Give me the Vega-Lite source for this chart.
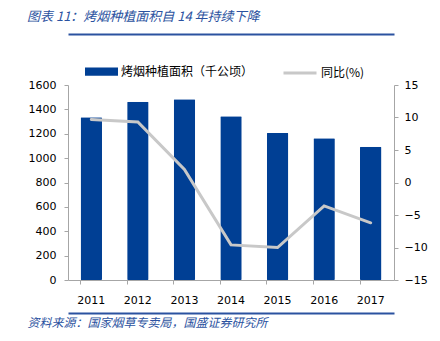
{
  "$schema": "https://vega.github.io/schema/vega-lite/v6.json",
  "width": 326,
  "height": 195,
  "autosize": {"type": "none"},
  "padding": {"left": 68, "top": 85, "right": 46, "bottom": 61},
  "background": "white",
  "config": {
    "view": {"stroke": null},
    "font": "DejaVu Sans"
  },
  "title": {
    "text": "图表 11：烤烟种植面积自 14 年持续下降",
    "font": "Noto Sans CJK SC",
    "fontSize": 13,
    "fontStyle": "italic",
    "fontWeight": "normal",
    "color": "#2B52A0",
    "anchor": "start",
    "frame": "group",
    "dx": -41,
    "offset": 10
  },
  "data": {
    "values": [
      {"year": "2011", "area": 1335, "yoy": 9.7},
      {"year": "2012", "area": 1462, "yoy": 9.3},
      {"year": "2013", "area": 1484, "yoy": 2.0},
      {"year": "2014", "area": 1343, "yoy": -9.6},
      {"year": "2015", "area": 1207, "yoy": -10.0},
      {"year": "2016", "area": 1163, "yoy": -3.6},
      {"year": "2017", "area": 1093, "yoy": -6.2}
    ]
  },
  "layer": [
    {
      "mark": {"type": "bar", "cornerRadius": 1},
      "encoding": {
        "x": {
          "field": "year",
          "type": "ordinal",
          "scale": {"paddingInner": 0.54, "paddingOuter": 0.27},
          "axis": {
            "orient": "bottom",
            "offset": 33,
            "labels": false,
            "ticks": false,
            "domain": true,
            "domainColor": "#2B52A0",
            "domainWidth": 2,
            "title": "资料来源：国家烟草专卖局，国盛证券研究所",
            "titleFont": "Noto Sans CJK SC",
            "titleFontSize": 12,
            "titleFontStyle": "italic",
            "titleFontWeight": "normal",
            "titleColor": "#2B52A0",
            "titleAnchor": "start",
            "titleAlign": "left",
            "titleBaseline": "middle",
            "titleX": -41,
            "titleY": 9
          }
        },
        "y": {
          "field": "area",
          "type": "quantitative",
          "scale": {"domain": [0, 1600]},
          "axis": {
            "orient": "left",
            "values": [0, 200, 400, 600, 800, 1000, 1200, 1400, 1600],
            "format": "d",
            "title": null,
            "grid": false,
            "labelFont": "DejaVu Sans",
            "labelFontSize": 11,
            "labelColor": "#000000",
            "labelPadding": 8,
            "tickColor": "#A6A6A6",
            "tickSize": 4,
            "domainColor": "#A6A6A6"
          }
        },
        "fill": {
          "datum": "烤烟种植面积（千公顷）",
          "type": "nominal",
          "scale": {"range": ["#003F94"]},
          "legend": {
            "orient": "none",
            "legendX": 17,
            "legendY": -30,
            "title": null,
            "symbolType": "M-1,-0.25H1V0.25H-1Z",
            "symbolSize": 1089,
            "symbolStrokeWidth": 0,
            "labelFont": "Noto Sans CJK SC",
            "labelFontSize": 12,
            "labelColor": "#000000",
            "labelOffset": 3
          }
        }
      }
    },
    {
      "mark": {"type": "line", "strokeWidth": 3, "strokeCap": "round"},
      "encoding": {
        "x": {
          "field": "year",
          "type": "ordinal",
          "axis": {
            "orient": "bottom",
            "labelAngle": 0,
            "labelFont": "DejaVu Sans",
            "labelFontSize": 11,
            "labelColor": "#000000",
            "labelPadding": 10,
            "bandPosition": 0,
            "ticks": true,
            "tickSize": 4,
            "tickColor": "#A6A6A6",
            "domainColor": "#A6A6A6",
            "title": null
          }
        },
        "y": {
          "field": "yoy",
          "type": "quantitative",
          "scale": {"domain": [-15, 15]},
          "axis": {
            "orient": "right",
            "values": [-15, -10, -5, 0, 5, 10, 15],
            "title": null,
            "grid": false,
            "labelFont": "DejaVu Sans",
            "labelFontSize": 11,
            "labelColor": "#000000",
            "labelPadding": 6,
            "tickColor": "#A6A6A6",
            "tickSize": 4,
            "domainColor": "#A6A6A6"
          }
        },
        "stroke": {
          "datum": "同比(%)",
          "type": "nominal",
          "scale": {"range": ["#C8C8C8"]},
          "legend": {
            "orient": "none",
            "legendX": 214,
            "legendY": -30,
            "title": null,
            "symbolType": "stroke",
            "symbolSize": 1089,
            "symbolStrokeWidth": 3,
            "labelFont": "Noto Sans CJK SC",
            "labelFontSize": 12,
            "labelColor": "#000000",
            "labelOffset": 3
          }
        }
      }
    },
    {
      "mark": {"type": "point", "opacity": 0},
      "encoding": {
        "x": {
          "field": "year",
          "type": "ordinal",
          "axis": {
            "orient": "top",
            "offset": 51,
            "labels": false,
            "ticks": false,
            "domainColor": "#2B52A0",
            "domainWidth": 2,
            "title": null
          }
        }
      }
    }
  ],
  "resolve": {
    "scale": {"y": "independent", "fill": "independent", "stroke": "independent"},
    "axis": {"x": "independent", "y": "independent"},
    "legend": {"fill": "independent", "stroke": "independent"}
  }
}
